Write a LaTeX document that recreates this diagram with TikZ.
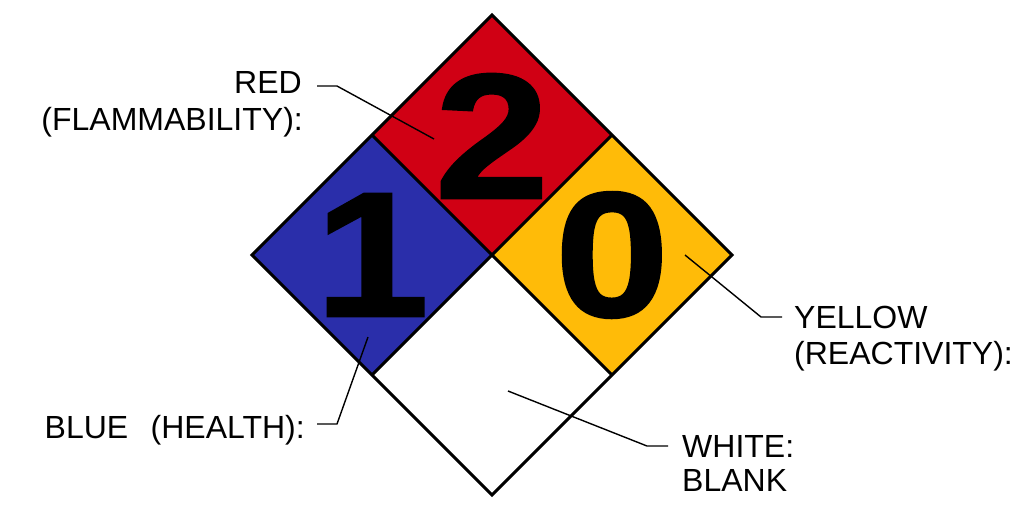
\documentclass[tikz,border=0pt]{standalone}
\usepackage{fontspec}
\setmainfont{Liberation Sans}
\newfontfamily\digitfont{Liberation Sans}[UprightFont=* Bold, FakeBold=1.4]
\definecolor{nfpared}{RGB}{208,0,20}
\definecolor{nfpablue}{RGB}{42,46,170}
\definecolor{nfpayellow}{RGB}{255,187,8}
\begin{document}
\begin{tikzpicture}[x=1pt,y=-1pt,
  quad/.style={draw=black,line width=3pt,line join=miter},
  digit/.style={inner sep=0pt,font=\digitfont\fontsize{178}{178}\selectfont,xscale=1.15},
  lbl/.style={inner sep=0pt,font=\fontsize{32}{32}\selectfont},
  leader/.style={draw=black,line width=1.4pt}]
\useasboundingbox (0,0) rectangle (1015,504);
% vertices
\coordinate (T) at (492,15);
\coordinate (L) at (252,255);
\coordinate (R) at (732,255);
\coordinate (B) at (492,495);
\coordinate (C) at (492,255);
\coordinate (TL) at (372,135);
\coordinate (TR) at (612,135);
\coordinate (BL) at (372,375);
\coordinate (BR) at (612,375);
% quadrants
\fill[nfpared] (T) -- (TR) -- (C) -- (TL) -- cycle;
\fill[nfpablue] (TL) -- (C) -- (BL) -- (L) -- cycle;
\fill[nfpayellow] (TR) -- (R) -- (BR) -- (C) -- cycle;
\fill[white] (C) -- (BR) -- (B) -- (BL) -- cycle;
\draw[quad] (T) -- (R) -- (B) -- (L) -- cycle;
\draw[quad] (TL) -- (BR);
\draw[quad] (TR) -- (BL);
% digits
\node[digit] (d2) at (492,136) {2};
\node[digit] (d1) at (372,255) {1};
\node[digit] (d0) at (612,255) {0};
% labels
\node[lbl,anchor=base east] (red1) at (302,93) {RED};
\node[lbl,anchor=base east] (red2) at (303,130) {(FLAMMABILITY):};
\node[lbl,anchor=base east] (blue1) at (305,438) {BLUE\hspace{0.7em}(HEALTH):};
\node[lbl,anchor=base west] (yel1) at (794,328) {YELLOW};
\node[lbl,anchor=base west] (yel2) at (794,364) {(REACTIVITY):};
\node[lbl,anchor=base west] (wh1) at (682,457) {WHITE:};
\node[lbl,anchor=base west] (wh2) at (682,491) {BLANK};
% leader points
\coordinate (redA) at (317,86);
\coordinate (redB) at (337,86);
\coordinate (redTip) at (434,139);
\coordinate (blueA) at (317,424);
\coordinate (blueB) at (337,424);
\coordinate (blueTip) at (368,337);
\coordinate (yelA) at (782,317);
\coordinate (yelB) at (761,317);
\coordinate (yelTip) at (685,255);
\coordinate (whA) at (668,446);
\coordinate (whB) at (647,446);
\coordinate (whTip) at (508,391);
\draw[leader] (redA) -- (redB) -- (redTip);
\draw[leader] (blueA) -- (blueB) -- (blueTip);
\draw[leader] (yelA) -- (yelB) -- (yelTip);
\draw[leader] (whA) -- (whB) -- (whTip);
\end{tikzpicture}
\end{document}
